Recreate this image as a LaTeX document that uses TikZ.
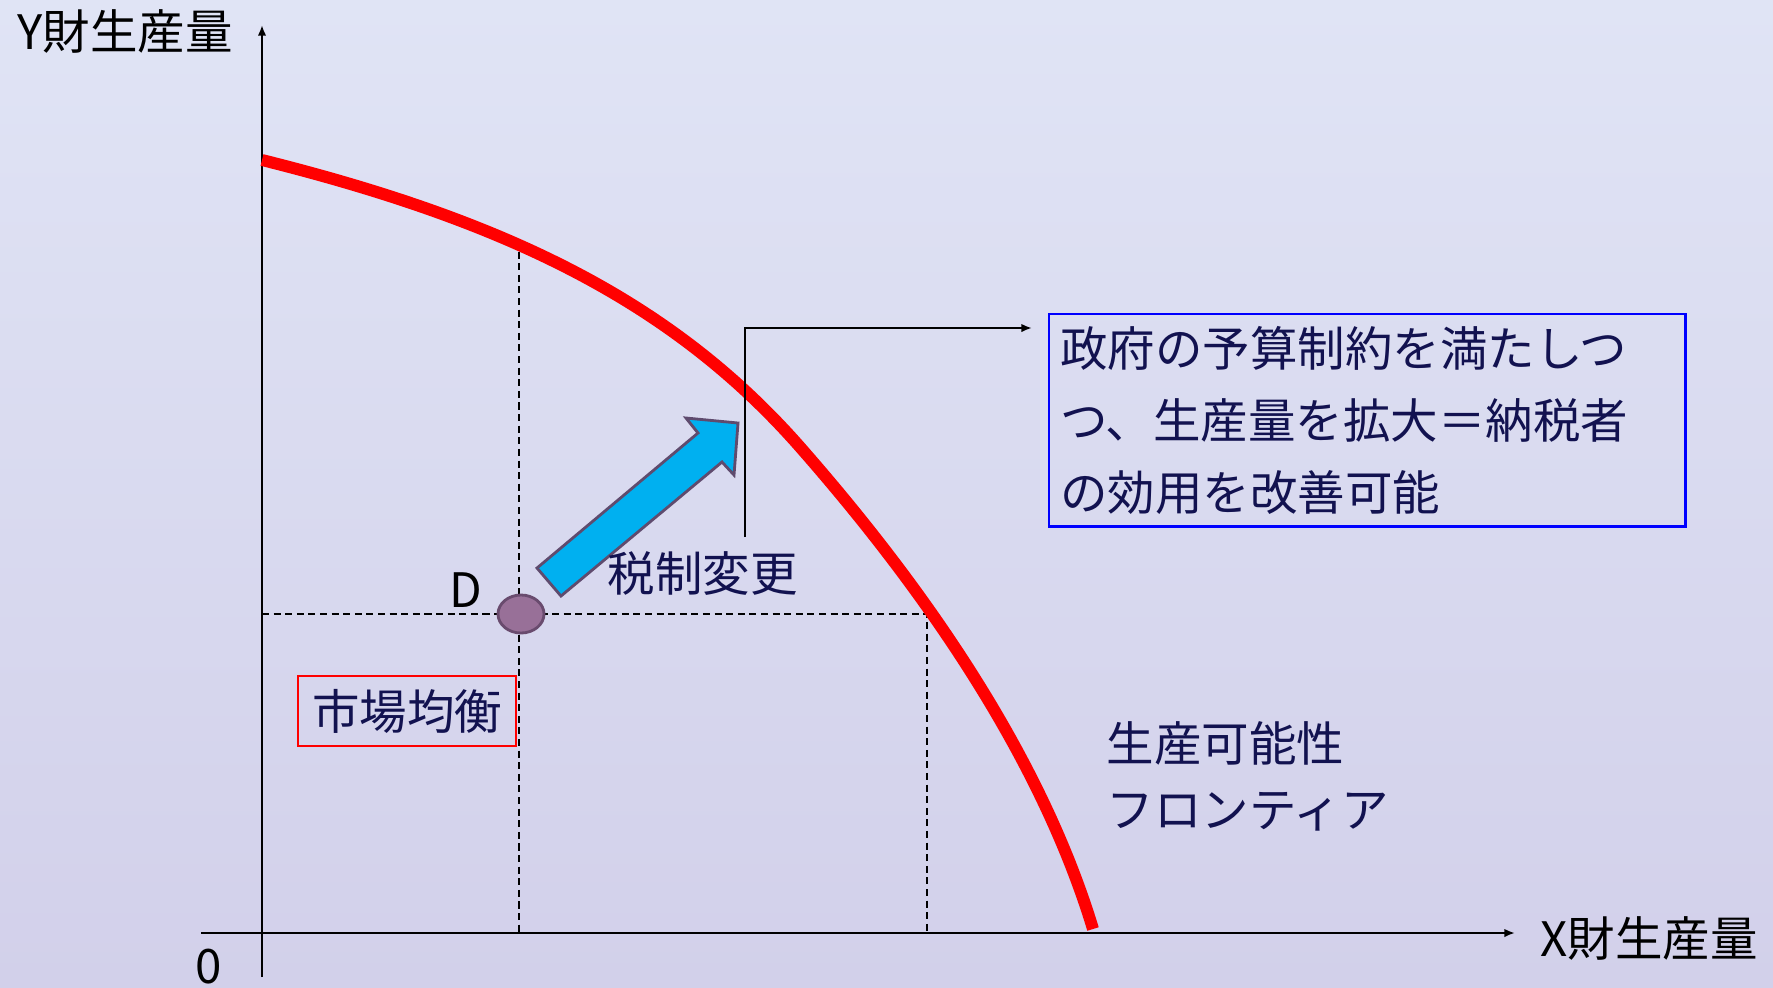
\documentclass[tikz,border=0pt]{standalone}
\usepackage{fontspec}
\setmainfont{Noto Sans CJK JP}
\usetikzlibrary{arrows.meta,shapes.geometric}
\definecolor{navy}{RGB}{18,18,80}
\definecolor{bgtop}{RGB}{224,228,245}
\definecolor{bgbot}{RGB}{210,208,234}
\definecolor{dfill}{RGB}{152,112,152}
\definecolor{dline}{RGB}{105,75,110}
\definecolor{cyanarrow}{RGB}{0,176,240}
\definecolor{arrowedge}{RGB}{95,75,110}
\begin{document}
\begin{tikzpicture}[x=0.01cm,y=-0.01cm,
  txt/.style={font=\fontsize{13.5}{20.5}\selectfont, inner sep=0pt, text=navy},
  axislabel/.style={font=\fontsize{13.5}{16}\selectfont, inner sep=0pt, text=black},
  axisline/.style={line width=0.6pt, black},
  guide/.style={line width=0.5pt, black, dash pattern=on 2pt off 1.3pt},
  frontier/.style={line width=3.4pt, red},
  smalltip/.style={-{Latex[length=3pt,width=2.4pt]}}]
\shade[top color=bgtop, bottom color=bgbot] (0,0) rectangle (1773,987);
\useasboundingbox (0,0) rectangle (1773,987);

% axes
\coordinate (ybot) at (262,977);
\coordinate (ytop) at (262,25);
\coordinate (xl) at (201,933);
\coordinate (xr) at (1515,933);
\draw[axisline, smalltip] (ybot) -- (ytop);
\draw[axisline, smalltip] (xl) -- (xr);

% labels
\node[axislabel, anchor=west] (ylab) at (17,31) {Y財生産量};
\node[axislabel, anchor=west] (xlab) at (1540,938) {X財生産量};
\node[axislabel] (zero) at (209,967) {0};

% guide lines
\coordinate (g1) at (519,240);
\coordinate (g1b) at (519,933);
\coordinate (h1) at (262,614);
\coordinate (h2) at (927,614);
\coordinate (h3) at (927,933);
\draw[guide] (g1) -- (g1b);
\draw[guide] (h1) -- (h2) -- (h3);

% frontier
\coordinate (f0) at (262,160);
\coordinate (fm) at (800,447);
\coordinate (f1) at (1093,929);
\draw[frontier] (f0) .. controls (502,220) and (670,299) .. (fm)
  .. controls (915,578) and (1038,747.5) .. (f1);

% point D
\node[ellipse, draw=dline, fill=dfill, line width=0.8pt, minimum width=0.46cm, minimum height=0.38cm, inner sep=0pt] (D) at (521,614) {};
\node[axislabel] (Dlab) at (466,590) {D};

% blue arrow
\draw[fill=cyanarrow, draw=arrowedge, line width=0.8pt, line join=miter]
  (537,568) -- (698,433) -- (686,418) -- (738,423) -- (734,475) -- (722,462) -- (561,596) -- cycle;
\node[txt, anchor=west] (tax) at (607,573) {税制変更};

% callout
\node[draw=blue, line width=0.7pt, anchor=north west, minimum width=6.36cm, minimum height=2.12cm, text width=6.14cm, inner xsep=0.11cm, align=left, font=\fontsize{13.5}{20.5}\selectfont, text=navy] (box) at (1048,313) {政府の予算制約を満たしつ\\つ、生産量を拡大＝納税者\\の効用を改善可能};
\coordinate (c1) at (745,537);
\coordinate (c2) at (1032,328);
\draw[line width=0.6pt, black, smalltip] (c1) |- (c2);

% market equilibrium
\node[draw=red, line width=0.7pt, minimum width=2.18cm, minimum height=0.70cm, txt] (mkt) at (407,711) {市場均衡};

% frontier label
\node[txt, anchor=west] (pf1) at (1106,743) {生産可能性};
\node[txt, anchor=west] (pf2) at (1106,812) {フロンティア};
\end{tikzpicture}
\end{document}
